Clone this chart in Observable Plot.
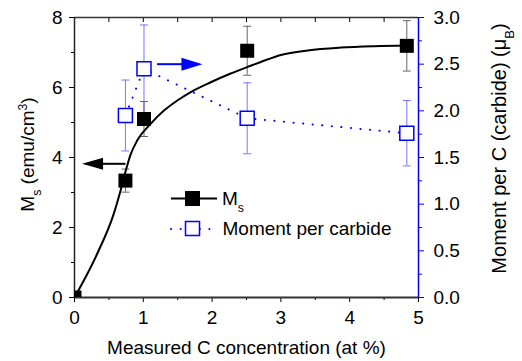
<!DOCTYPE html>
<html><head><meta charset="utf-8">
<script src="https://cdn.jsdelivr.net/npm/d3@7"></script>
<script src="https://cdn.jsdelivr.net/npm/@observablehq/plot@0.6"></script>
<style>body{margin:0;background:#fff} #chart svg{display:block}</style>
</head><body><div id="chart"></div>
<script>
// Ms data (left axis)
const concentration = [0, 0.74, 1.01, 2.51, 4.83];
const ms = [0, 3.34, 5.1, 7.05, 7.19];
const msErr = [0, 0.33, 0.5, 0.7, 0.72];
// Moment per carbide (right axis)
const momentConc = [0.74, 1.01, 2.51, 4.83];
const moment = [1.95, 2.45, 1.92, 1.76];
const momentErr = [0.38, 0.47, 0.38, 0.35];
// fitted curve through Ms
const fitX = [0, 0.33, 0.57, 0.67, 0.742, 0.815, 0.913, 1.106, 1.3, 1.495, 1.69, 1.98, 2.27, 2.56, 2.71, 3.0, 3.39, 3.87, 4.36, 4.84];
const fitY = [0, 1.25, 2.39, 3.06, 3.6, 4.08, 4.49, 4.96, 5.34, 5.63, 5.87, 6.15, 6.4, 6.62, 6.73, 6.93, 7.06, 7.14, 7.18, 7.2];
// ticks
const xTicks = [0, 1, 2, 3, 4, 5];
const xMinor = [0.5, 1.5, 2.5, 3.5, 4.5];
const topTicks = [0.5, 1, 1.5, 2, 2.5, 3, 3.5, 4, 4.5];
const msTicks = [0, 2, 4, 6, 8];
const msMinor = [1, 3, 5, 7];
const momentTicks = [0, 0.5, 1, 1.5, 2, 2.5, 3];
const momentMinor = [0.25, 0.75, 1.25, 1.75, 2.25, 2.75];
// annotation arrows
const arrowTail = [0.74, 1.2];
const arrowTip = [0.11, 1.86];
const arrowValue = [3.82, 2.5];
const arrowAxis = ["left", "right"];

const msMax = 8, momentMax = 3;
const toLeft = m => m * msMax / momentMax;
const BLUE = "#0000ff";
const FONT = "'Liberation Sans', Arial, sans-serif";

const msData = concentration.map((c, i) => ({c, v: ms[i], e: msErr[i]}));
const moData = momentConc.map((c, i) => ({c, v: toLeft(moment[i]), e: toLeft(momentErr[i])}));
const fit = fitX.map((x, i) => ({x, y: fitY[i]}));
const capsOf = arr => arr.filter(d => d.e > 0).flatMap(d => [{c: d.c, y: d.v - d.e}, {c: d.c, y: d.v + d.e}]);
const arrows = arrowTail.map((t, i) => {
  const y = arrowAxis[i] === "left" ? arrowValue[i] : toLeft(arrowValue[i]);
  const dir = Math.sign(arrowTip[i] - t);
  return {t, tip: arrowTip[i], y, dir, color: arrowAxis[i] === "left" ? "black" : BLUE};
});

const capSymbol = {draw(ctx) { ctx.moveTo(-4, 0); ctx.lineTo(4, 0); }};
const headLeft = {draw(ctx) { ctx.moveTo(0, 0); ctx.lineTo(21, -6); ctx.lineTo(21, 6); ctx.closePath(); }};
const headRight = {draw(ctx) { ctx.moveTo(0, 0); ctx.lineTo(-21, -6.5); ctx.lineTo(-21, 6.5); ctx.closePath(); }};
const squareR = 14 / Math.sqrt(Math.PI);
const noLabel = () => "";

const plot = Plot.plot({
  width: 522, height: 361,
  marginLeft: 74, marginRight: 104, marginTop: 17, marginBottom: 64,
  x: {domain: [0, 5], label: null},
  y: {domain: [0, msMax], label: null},
  style: {fontFamily: FONT, fontSize: "19px", background: "white", color: "black"},
  marks: [
    // axes
    Plot.axisX(xTicks, {anchor: "bottom", tickSize: 5, tickPadding: 8, label: null, fontSize: 19}),
    Plot.axisX(xMinor, {anchor: "bottom", tickSize: 3, tickFormat: noLabel, label: null}),
    Plot.tickX(topTicks, {x: d => d, insetBottom: 275, stroke: "black", strokeWidth: 1}),
    Plot.axisY(msTicks, {anchor: "left", tickSize: 5, tickPadding: 7, label: null, fontSize: 19}),
    Plot.axisY(msMinor, {anchor: "left", tickSize: 3, tickFormat: noLabel, label: null}),
    Plot.axisY(momentTicks.map(toLeft), {anchor: "right", tickSize: 5, tickFormat: noLabel, label: null, color: BLUE}),
    Plot.axisY(momentMinor.map(toLeft), {anchor: "right", tickSize: 3, tickFormat: noLabel, label: null, color: BLUE}),
    Plot.axisY(momentTicks.map(toLeft), {anchor: "right", tickSize: 0, tickPadding: 15, label: null, fontSize: 19,
      tickFormat: d => (d * momentMax / msMax).toFixed(1)}),
    Plot.ruleY([0], {stroke: "#333", strokeWidth: 1.8}),
    Plot.ruleY([msMax], {stroke: "#333", strokeWidth: 1.5}),
    Plot.ruleX([0], {stroke: "#222", strokeWidth: 1.5}),
    Plot.ruleX([5], {stroke: BLUE, strokeWidth: 1.5}),
    // titles
    Plot.text(["Ms (emu/cm3)"], {frameAnchor: "left", textAnchor: "middle", lineAnchor: "middle", rotate: -90, dx: -47, dy: -3, fontSize: 19}),
    Plot.text(["Moment per C (carbide) (μB)"], {frameAnchor: "right", textAnchor: "middle", lineAnchor: "middle", rotate: -90, dx: 81, dy: -9, fontSize: 20}),
    Plot.text(["Measured C concentration (at %)"], {frameAnchor: "bottom", lineAnchor: "middle", dy: 50, fontSize: 19}),
    // error bars
    Plot.ruleX(moData, {x: "c", y1: d => d.v - d.e, y2: d => d.v + d.e, stroke: "#7777ff", strokeWidth: 1}),
    Plot.dot(capsOf(moData), {x: "c", y: "y", symbol: capSymbol, stroke: "#7777ff", fill: "none", strokeWidth: 1}),
    Plot.ruleX(msData.filter(d => d.e > 0), {x: "c", y1: d => d.v - d.e, y2: d => d.v + d.e, stroke: "#666", strokeWidth: 1}),
    Plot.dot(capsOf(msData), {x: "c", y: "y", symbol: capSymbol, stroke: "#666", fill: "none", strokeWidth: 1}),
    // lines
    Plot.line(moData, {x: "c", y: "v", stroke: BLUE, strokeWidth: 2, strokeDasharray: "0.1,9.5", strokeLinecap: "round"}),
    Plot.line(fit, {x: "x", y: "y", curve: "monotone-x", stroke: "black", strokeWidth: 2}),
    // markers
    Plot.dot(moData, {x: "c", y: "v", symbol: "square", r: squareR, fill: "white", stroke: BLUE, strokeWidth: 1.5}),
    Plot.dot(msData, {x: "c", y: "v", symbol: "square", r: squareR, fill: "black", stroke: "none", clip: true}),
    // arrows
    Plot.link(arrows, {x1: "t", x2: d => d.tip - d.dir * 0.2, y1: "y", y2: "y", stroke: "color", strokeWidth: 2}),
    Plot.dot(arrows.filter(d => d.dir < 0), {x: "tip", y: "y", symbol: headLeft, fill: "color", stroke: "none"}),
    Plot.dot(arrows.filter(d => d.dir > 0), {x: "tip", y: "y", symbol: headRight, fill: "color", stroke: "none"})
  ]
});

const svg = d3.select(plot);
// rich text titles (sub/superscripts)
svg.selectAll("text").each(function() {
  const t = d3.select(this);
  const s = t.text();
  if (s === "Ms (emu/cm3)") {
    t.text(null);
    t.append("tspan").text("M");
    t.append("tspan").attr("baseline-shift", "sub").attr("font-size", "0.65em").text("s");
    t.append("tspan").text(" (emu/cm");
    t.append("tspan").attr("baseline-shift", "super").attr("font-size", "0.65em").text("3");
    t.append("tspan").text(")");
  } else if (s === "Moment per C (carbide) (μB)") {
    t.text(null);
    t.append("tspan").text("Moment per C (carbide) (μ");
    t.append("tspan").attr("baseline-shift", "sub").attr("font-size", "0.65em").text("B");
    t.append("tspan").text(")");
  }
});

// legend
const lg = svg.append("g").attr("font-family", FONT).attr("font-size", 19).attr("text-anchor", "start");
lg.append("line").attr("x1", 171).attr("x2", 217).attr("y1", 198.5).attr("y2", 198.5).attr("stroke", "black").attr("stroke-width", 2);
lg.append("rect").attr("x", 185).attr("y", 191).attr("width", 15).attr("height", 15).attr("fill", "black");
const t1 = lg.append("text").attr("x", 222).attr("y", 205);
t1.append("tspan").text("M");
t1.append("tspan").attr("baseline-shift", "sub").attr("font-size", "0.65em").text("s");
lg.append("line").attr("x1", 171).attr("x2", 214).attr("y1", 229).attr("y2", 229).attr("stroke", BLUE).attr("stroke-width", 2)
  .attr("stroke-dasharray", "0.1,9.5").attr("stroke-linecap", "round");
lg.append("rect").attr("x", 185.5).attr("y", 221.5).attr("width", 14).attr("height", 14).attr("fill", "white").attr("stroke", BLUE).attr("stroke-width", 1.5);
lg.append("text").attr("x", 222.5).attr("y", 235).text("Moment per carbide");

document.getElementById("chart").appendChild(plot);
</script>
</body></html>
